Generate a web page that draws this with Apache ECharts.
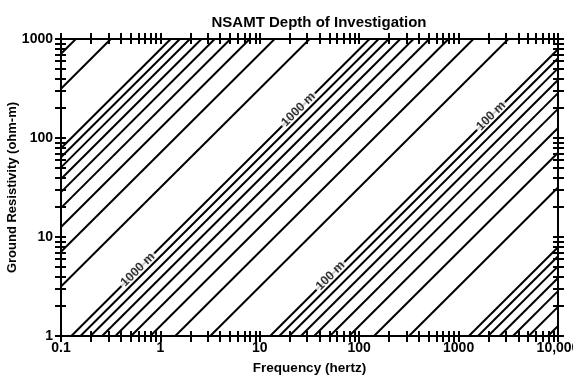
<!DOCTYPE html>
<html>
<head>
<meta charset="utf-8">
<script src="https://cdn.jsdelivr.net/npm/echarts@6/dist/echarts.min.js"></script>
<style>
  html, body { margin: 0; padding: 0; background: #fff; }
  #chart { width: 573px; height: 375px; }
</style>
</head>
<body>
<div id="chart"></div>
<script>
// depth of investigation contours (metres)
const depths = [30000, 20000, 10000, 9000, 8000, 7000, 6000, 5000, 4000, 3000, 2000,
  1000, 900, 800, 700, 600, 500, 400, 300, 200,
  100, 90, 80, 70, 60, 50, 40, 30, 20,
  10, 9, 8, 7, 6, 5, 4];
// where each contour enters the frame (lower / left edge)
const startFreq = [0.1, 0.1, 0.1, 0.1, 0.1, 0.1, 0.1, 0.1, 0.1, 0.1, 0.1,
  0.127, 0.157, 0.198, 0.259, 0.352, 0.507, 0.792, 1.41, 3.17,
  12.7, 15.7, 19.8, 25.9, 35.2, 50.7, 79.2, 141, 317,
  1268, 1567, 1982, 2588, 3524, 5070, 7925];
const startRes = [710, 315, 78.9, 63.8, 50.5, 38.6, 28.4, 19.7, 12.6, 7.1, 3.16,
  1, 1, 1, 1, 1, 1, 1, 1, 1,
  1, 1, 1, 1, 1, 1, 1, 1, 1,
  1, 1, 1, 1, 1, 1, 1];
// where each contour leaves the frame (top / right edge)
const endFreq = [0.141, 0.317, 1.27, 1.57, 1.98, 2.59, 3.52, 5.07, 7.92, 14.1, 31.7,
  127, 157, 198, 259, 352, 507, 792, 1410, 3170,
  10000, 10000, 10000, 10000, 10000, 10000, 10000, 10000, 10000,
  10000, 10000, 10000, 10000, 10000, 10000, 10000];
const endRes = [1000, 1000, 1000, 1000, 1000, 1000, 1000, 1000, 1000, 1000, 1000,
  1000, 1000, 1000, 1000, 1000, 1000, 1000, 1000, 1000,
  789, 638, 505, 386, 284, 197, 126, 71, 31.6,
  7.89, 6.38, 5.05, 3.86, 2.84, 1.97, 1.26];

// contour labels
const labelText = ['1000 m', '1000 m', '100 m', '100 m'];
const labelFreq = [0.593, 24.5, 51.4, 2123];
const labelRes = [4.68, 194, 4.06, 167];

// axis ticks and labels
const xDecades = [0.1, 1, 10, 100, 1000];
const yDecades = [1, 10, 100];
const tickSteps = [1, 2, 3, 4, 5, 6, 7, 8, 9];
const xLabelValues = [0.1, 1, 10, 100, 1000, 10000];
const xLabelText = ['0.1', '1', '10', '100', '1000', '10,000'];
const yLabelValues = [1, 10, 100, 1000];
const yLabelText = ['1', '10', '100', '1000'];

const FONT = '"Liberation Sans", Arial, Helvetica, sans-serif';

const xTicks = xDecades.flatMap((d) => tickSteps.map((s) => d * s)).concat([10000]);
const yTicks = yDecades.flatMap((d) => tickSteps.map((s) => d * s)).concat([1000]);

const pickLabel = (values, texts) => (v) => {
  let best = 0;
  values.forEach((t, i) => {
    if (Math.abs(Math.log10(t) - Math.log10(v)) < Math.abs(Math.log10(values[best]) - Math.log10(v))) best = i;
  });
  return texts[best];
};

const axisBase = (min, max, position, inside, ticks) => ({
  type: 'log',
  logBase: 10,
  min,
  max,
  position,
  axisLine: { show: true, onZero: false, lineStyle: { color: '#000', width: 2 } },
  axisTick: {
    show: true,
    inside,
    length: inside ? 5 : 6,
    customValues: ticks,
    lineStyle: { color: '#000', width: 2 },
  },
  axisLabel: { show: false },
  splitLine: { show: false },
  minorTick: { show: false },
});

const xMain = axisBase(0.1, 10000, 'bottom', false, xTicks);
xMain.axisLabel = {
  show: true,
  customValues: xLabelValues,
  formatter: pickLabel(xLabelValues, xLabelText),
  color: '#000',
  fontFamily: FONT,
  fontWeight: 'bold',
  fontSize: 14,
  margin: 5,
};
xMain.name = 'Frequency (hertz)';
xMain.nameLocation = 'middle';
xMain.nameGap = 25;
xMain.nameMoveOverlap = false;
xMain.nameTextStyle = { color: '#000', fontFamily: FONT, fontWeight: 'bold', fontSize: 13.5 };

const yMain = axisBase(1, 1000, 'left', false, yTicks);
yMain.axisLabel = {
  show: true,
  customValues: yLabelValues,
  formatter: pickLabel(yLabelValues, yLabelText),
  color: '#000',
  fontFamily: FONT,
  fontWeight: 'bold',
  fontSize: 14,
  margin: 8,
};
yMain.name = 'Ground Resistivity (ohm-m)';
yMain.nameLocation = 'middle';
yMain.nameGap = 42;
yMain.nameMoveOverlap = false;
yMain.nameTextStyle = { color: '#000', fontFamily: FONT, fontWeight: 'bold', fontSize: 13 };

const contourSeries = depths.map((d, i) => ({
  name: d + ' m',
  type: 'line',
  xAxisIndex: 0,
  yAxisIndex: 0,
  data: [[startFreq[i], startRes[i]], [endFreq[i], endRes[i]]],
  symbol: 'none',
  silent: true,
  lineStyle: { color: '#000', width: 2 },
  z: 2,
}));

const labelSeries = {
  type: 'scatter',
  xAxisIndex: 0,
  yAxisIndex: 0,
  data: labelFreq.map((f, i) => [f, labelRes[i], labelText[i]]),
  symbolSize: 1,
  itemStyle: { color: 'rgba(0,0,0,0)' },
  silent: true,
  z: 10,
  label: {
    show: true,
    position: 'inside',
    formatter: (p) => p.data[2],
    rotate: 45,
    color: '#000',
    fontFamily: FONT,
    fontWeight: 'bold',
    fontSize: 12.5,
    lineHeight: 9,
    backgroundColor: '#fff',
    padding: [0, 2],
  },
};

const chart = echarts.init(document.getElementById('chart'), null, { renderer: 'canvas' });

chart.setOption({
  animation: false,
  backgroundColor: '#fff',
  title: {
    text: 'NSAMT Depth of Investigation',
    left: 314,
    top: 10,
    textAlign: 'center',
    textStyle: { color: '#000', fontFamily: FONT, fontWeight: 'bold', fontSize: 15 },
  },
  grid: {
    left: 61,
    right: 15,
    top: 39,
    bottom: 39,
    containLabel: false,
    outerBoundsMode: 'none',
  },
  xAxis: [
    xMain,
    axisBase(0.1, 10000, 'bottom', true, xTicks),
    axisBase(0.1, 10000, 'top', false, xTicks),
    axisBase(0.1, 10000, 'top', true, xTicks),
  ],
  yAxis: [
    yMain,
    axisBase(1, 1000, 'left', true, yTicks),
    axisBase(1, 1000, 'right', false, yTicks),
    axisBase(1, 1000, 'right', true, yTicks),
  ],
  series: contourSeries.concat([labelSeries]),
});

window.addEventListener('resize', () => chart.resize());
</script>
</body>
</html>
